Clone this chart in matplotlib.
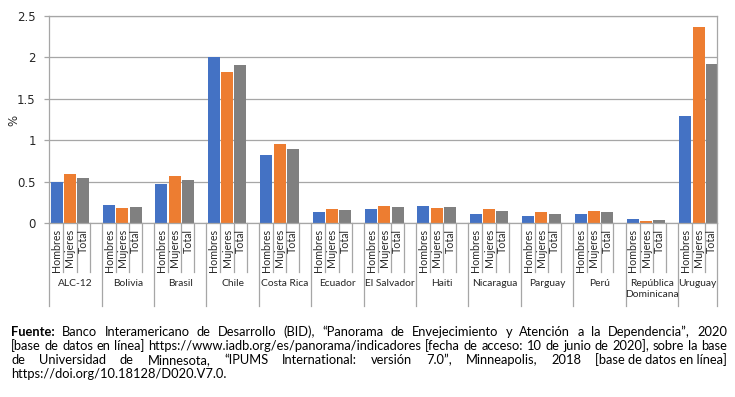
import matplotlib
matplotlib.use("Agg")
import matplotlib.pyplot as plt

plt.rcParams['font.family'] = ['Lato', 'DejaVu Sans']

# datos (% de la poblacion)
paises = ["ALC-12", "Bolivia", "Brasil", "Chile", "Costa Rica", "Ecuador", "El Salvador",
          "Haiti", "Nicaragua", "Parguay", "Perú", "República\nDominicana", "Uruguay"]
sexos = ["Hombres", "Mujeres", "Total"]
hombres = [0.50, 0.22, 0.47, 2.00, 0.82, 0.14, 0.17, 0.21, 0.11, 0.09, 0.11, 0.05, 1.29]
mujeres = [0.60, 0.19, 0.57, 1.83, 0.96, 0.17, 0.21, 0.19, 0.17, 0.14, 0.15, 0.03, 2.37]
total = [0.55, 0.20, 0.52, 1.91, 0.90, 0.16, 0.20, 0.20, 0.15, 0.11, 0.14, 0.04, 1.92]
y_ticks = [0, 0.5, 1, 1.5, 2, 2.5]
y_tick_labels = ["0", "0.5", "1", "1.5", "2", "2.5"]

nota = [
    "Fuente: Banco Interamericano de Desarrollo (BID), “Panorama de Envejecimiento y Atención a la Dependencia”, 2020",
    "[base de datos en línea] https://www.iadb.org/es/panorama/indicadores [fecha de acceso: 10 de junio de 2020], sobre la base",
    "de Universidad de Minnesota, “IPUMS International: versión 7.0”, Minneapolis, 2018 [base\u00a0de\u00a0datos\u00a0en\u00a0línea]",
    "https://doi.org/10.18128/D020.V7.0.",
]

colores = ['#4472C4', '#ED7D31', '#808080']
gris = '#A6A6A6'

W, H = 735, 397
fig = plt.figure(figsize=(W / 100, H / 100), dpi=100)
ax = fig.add_axes([49.3 / W, (H - 223.3) / H, (716.7 - 49.3) / W, (223.3 - 16) / H])

offsets = [0.141, 0.395, 0.647]
ancho = 0.229
xmax = 12.74
for serie, off, col in zip([hombres, mujeres, total], offsets, colores):
    xs = [i + off for i in range(len(paises))]
    ax.bar(xs, serie, width=ancho, color=col, zorder=2)

ax.set_xlim(0, xmax)
ax.set_ylim(0, 2.5)
ax.set_yticks(y_ticks)
ax.set_yticklabels(y_tick_labels, family='DejaVu Sans')
ax.set_xticks([])
ax.tick_params(axis='y', length=3.3, width=0.9, color=gris, pad=6.5, labelsize=8.5,
               labelcolor='#262626')
ax.yaxis.grid(True, color=gris, lw=0.9)
ax.set_axisbelow(True)
for s in ax.spines.values():
    s.set_color(gris)
    s.set_linewidth(0.9)

ax.set_ylabel('%', fontsize=8.5, color='#262626', family='DejaVu Sans')
ax.yaxis.set_label_coords(-0.043, 0.498)

# eje de categorias en dos niveles
tr = ax.get_xaxis_transform()
alto = 223.3 - 16
bordes = list(range(len(paises))) + [xmax]
for b in bordes:
    ax.plot([b, b], [0, -82.7 / alto], transform=tr, clip_on=False, color=gris, lw=0.9)
for i, pais in enumerate(paises):
    for sep in [0.268, 0.523, 0.77]:
        if i + sep < xmax - 0.01:
            ax.plot([i + sep, i + sep], [0, -48.4 / alto], transform=tr, clip_on=False,
                    color=gris, lw=0.9)
    for off, sx in zip(offsets, sexos):
        ax.text(i + off, -5.5 / alto, sx, transform=tr, rotation=90, ha='center', va='top',
                fontsize=7.7, color='#262626')
    cx = (i + min(i + 1, xmax)) / 2
    ax.text(cx, -55.5 / alto, pais, transform=tr, ha='center', va='top', fontsize=7.4,
            color='#262626', linespacing=1.35)

# nota al pie, justificada
r = fig.canvas.get_renderer()
prueba = fig.text(0, 0, nota[1], fontsize=10)
fs_nota = 10 * 714 / prueba.get_window_extent(r).width
prueba.remove()
t1 = fig.text(0, 0, "a a", fontsize=fs_nota)
t2 = fig.text(0, 0, "aa", fontsize=fs_nota)
esp = t1.get_window_extent(r).width - t2.get_window_extent(r).width
t1.remove()
t2.remove()

x0, x1 = 11, 727
bases = [336, 350, 364, 378]
for k, (linea, yb) in enumerate(zip(nota, bases)):
    palabras = linea.split(' ')
    textos = []
    for p in palabras:
        peso = 'bold' if p == 'Fuente:' else 'normal'
        textos.append(fig.text(0, 1 - yb / H, p, fontsize=fs_nota, fontweight=peso,
                               va='baseline', ha='left', color='black'))
    anchos = [t.get_window_extent(r).width for t in textos]
    if k < len(nota) - 1:
        hueco = (x1 - x0 - sum(anchos)) / (len(palabras) - 1)
    else:
        hueco = esp
    pos = x0
    for t, a in zip(textos, anchos):
        t.set_x(pos / W)
        pos += a + hueco

fig.savefig('out.png', dpi=100)
